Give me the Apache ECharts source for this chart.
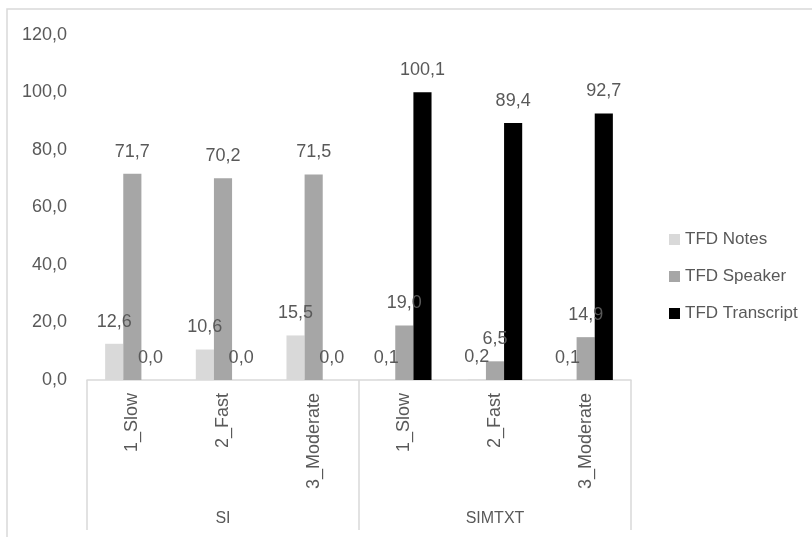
<!DOCTYPE html>
<html>
<head>
<meta charset="utf-8">
<title>TFD by condition</title>
<script src="https://cdn.jsdelivr.net/npm/echarts@6/dist/echarts.min.js"></script>
<style>
  html, body { margin: 0; padding: 0; background: #ffffff; }
  #chart { width: 812px; height: 537px; }
</style>
</head>
<body>
<div id="chart"></div>
<script>
// Speed conditions within each task group
const categories = ['1_Slow', '2_Fast', '3_Moderate', '1_Slow', '2_Fast', '3_Moderate'];
const groups = ['SI', 'SIMTXT'];

// Total fixation duration per area of interest
const tfdNotes = [12.6, 10.6, 15.5, 0.1, 0.2, 0.1];
const tfdSpeaker = [71.7, 70.2, 71.5, 19.0, 6.5, 14.9];
const tfdTranscript = [0.0, 0.0, 0.0, 100.1, 89.4, 92.7];

const seriesNames = ['TFD Notes', 'TFD Speaker', 'TFD Transcript'];
const seriesColors = ['#d9d9d9', '#a6a6a6', '#000000'];

const FONT = '"Liberation Sans", Arial, sans-serif';
const TEXT = '#595959';
const LINE = '#d9d9d9';

const fmt = v => Number(v).toFixed(1).replace('.', ',');

const chart = echarts.init(document.getElementById('chart'), null, { renderer: 'canvas' });

function barSeries(name, data, color) {
  return {
    name: name,
    type: 'bar',
    xAxisIndex: 0,
    data: data,
    barGap: '0%',
    barCategoryGap: '40%',
    itemStyle: { color: color },
    label: {
      show: true,
      position: 'top',
      distance: 13,
      color: TEXT,
      fontFamily: FONT,
      fontSize: 18,
      formatter: p => fmt(p.value)
    },
    emphasis: { disabled: true }
  };
}

chart.setOption({
  animation: false,
  backgroundColor: '#ffffff',
  textStyle: { fontFamily: FONT },
  grid: { left: 87, right: 181, top: 35, bottom: 157, containLabel: false },
  legend: {
    orient: 'vertical',
    left: 664,
    top: 226,
    itemWidth: 11,
    itemHeight: 11,
    itemGap: 20,
    icon: 'rect',
    textStyle: { color: TEXT, fontFamily: FONT, fontSize: 17 },
    data: seriesNames
  },
  xAxis: [
    {
      type: 'category',
      data: categories,
      position: 'bottom',
      axisLine: { show: true, lineStyle: { color: LINE, width: 1.5 } },
      axisTick: { show: false },
      axisLabel: {
        rotate: 90,
        interval: 0,
        margin: 13,
        color: TEXT,
        fontFamily: FONT,
        fontSize: 18
      }
    },
    {
      type: 'category',
      data: groups,
      position: 'bottom',
      axisLine: { show: false },
      axisTick: { show: true, length: 150, interval: 0, lineStyle: { color: LINE, width: 1.5 } },
      axisLabel: {
        interval: 0,
        margin: 131,
        color: TEXT,
        fontFamily: FONT,
        fontSize: 16
      }
    }
  ],
  yAxis: {
    type: 'value',
    min: 0,
    max: 120,
    interval: 20,
    axisLine: { show: false },
    axisTick: { show: false },
    splitLine: { show: false },
    axisLabel: {
      margin: 20,
      color: TEXT,
      fontFamily: FONT,
      fontSize: 18,
      formatter: v => fmt(v)
    }
  },
  graphic: [
    {
      type: 'polyline',
      shape: { points: [[7, 537], [7, 9], [812, 9]] },
      style: { stroke: LINE, lineWidth: 1.5, fill: null },
      silent: true
    }
  ],
  series: [
    barSeries(seriesNames[0], tfdNotes, seriesColors[0]),
    barSeries(seriesNames[1], tfdSpeaker, seriesColors[1]),
    barSeries(seriesNames[2], tfdTranscript, seriesColors[2])
  ]
});
</script>
</body>
</html>
